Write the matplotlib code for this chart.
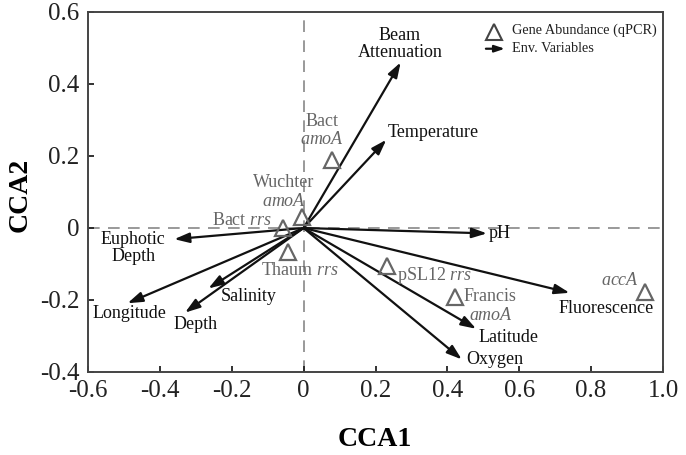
import matplotlib
matplotlib.use("Agg")
import matplotlib.pyplot as plt

plt.rcParams['font.family'] = ['Liberation Serif', 'DejaVu Serif']
plt.rcParams['mathtext.fontset'] = 'custom'
plt.rcParams['mathtext.rm'] = 'Liberation Serif'
plt.rcParams['mathtext.it'] = 'Liberation Serif:italic'
plt.rcParams['mathtext.bf'] = 'Liberation Serif:bold'

# Environmental variable vectors (CCA1, CCA2)
env_names = ["Beam\nAttenuation", "Temperature", "pH", "Fluorescence", "Latitude",
             "Oxygen", "Euphotic\nDepth", "Longitude", "Salinity", "Depth"]
env_x = [0.27, 0.23, 0.51, 0.74, 0.48, 0.44, -0.36, -0.49, -0.265, -0.33]
env_y = [0.46, 0.245, -0.015, -0.18, -0.28, -0.365, -0.031, -0.209, -0.168, -0.235]

# Gene abundance scores
gene_names = ["Bact\n$\\it{amoA}$", "Wuchter\n$\\it{amoA}$", "Bact $\\it{rrs}$",
              "Thaum $\\it{rrs}$", "pSL12 $\\it{rrs}$", "Francis", "$\\it{accA}$"]
gene_x = [0.078, -0.005, -0.058, -0.043, 0.231, 0.421, 0.95]
gene_y = [0.189, 0.031, 0.0, -0.066, -0.106, -0.193, -0.177]

xticks = [-0.6, -0.4, -0.2, 0, 0.2, 0.4, 0.6, 0.8, 1.0]
xticklabels = ["-0.6", "-0.4", "-0.2", "0", "0.2", "0.4", "0.6", "0.8", "1.0"]
yticks = [-0.4, -0.2, 0, 0.2, 0.4, 0.6]
yticklabels = ["-0.4", "-0.2", "0", "0.2", "0.4", "0.6"]

# label placement (text position, alignment)
env_lab = [(0.268, 0.511, 'center'), (0.234, 0.265, 'left'), (0.515, -0.014, 'left'),
           (0.843, -0.223, 'center'), (0.57, -0.304, 'center'), (0.452, -0.365, 'left'),
           (-0.474, -0.056, 'center'), (-0.485, -0.237, 'center'), (-0.154, -0.191, 'center'),
           (-0.302, -0.269, 'center')]
gene_lab = [(0.05, 0.27, 'center'), (-0.055, 0.10, 'center'), (-0.172, 0.022, 'center'),
            (-0.01, -0.119, 'center'), (0.259, -0.133, 'left'), (0.446, -0.191, 'left'),
            (0.88, -0.146, 'center')]

fig = plt.figure(figsize=(6.86, 4.55), dpi=100)
ax = fig.add_axes([88/686, 1-372/455, (663-88)/686, (372-12)/455])

ax.axhline(0, color='#888888', lw=1.2, ls=(0, (7, 5)), zorder=1)
ax.axvline(0, color='#888888', lw=1.2, ls=(0, (7, 5)), zorder=1)

for i, n in enumerate(env_names):
    ax.annotate("", xy=(env_x[i], env_y[i]), xytext=(0, 0),
                arrowprops=dict(arrowstyle='-|>,head_length=0.9,head_width=0.3',
                                color='#111111', lw=1.6, shrinkA=0, shrinkB=0), zorder=3)
    tx, ty, ha = env_lab[i]
    ax.text(tx, ty, n, ha=ha, va='center', fontsize=13, color='#111111',
            linespacing=1.0, zorder=4)

ax.plot(gene_x, gene_y, ls='none', marker='^', ms=11, mfc='none', mec='#666666',
        mew=1.6, zorder=4)
for i, n in enumerate(gene_names):
    tx, ty, ha = gene_lab[i]
    ax.text(tx, ty, n, ha=ha, va='center', fontsize=13, color='#666666',
            linespacing=1.1, zorder=4)
ax.text(0.519, -0.244, "amoA", ha='center', va='center', fontsize=13,
        color='#666666', style='italic')

ax.set_xlim(-0.6, 1.0)
ax.set_ylim(-0.4, 0.6)
ax.set_xticks(xticks)
ax.set_xticklabels(xticklabels)
ax.set_yticks(yticks)
ax.set_yticklabels(yticklabels)
ax.tick_params(direction='in', length=4, width=1.3, labelsize=18, colors='#222222', pad=6)
for s in ax.spines.values():
    s.set_color('#444444')
    s.set_linewidth(1.4)

fig.text(375/686, 1-440/455, "CCA1", ha='center', va='center', fontsize=20, fontweight='bold')
fig.text(20/686, 1-195/455, "CCA2", ha='center', va='center', fontsize=20,
         fontweight='bold', rotation=90)

# legend
ax.plot([0.706], [0.945], transform=ax.transAxes, marker='^', ms=11, mfc='none',
        mec='#444444', mew=1.5, ls='none')
ax.annotate("", xy=(0.725, 0.898), xytext=(0.692, 0.898), xycoords='axes fraction',
            arrowprops=dict(arrowstyle='-|>,head_length=0.6,head_width=0.2',
                            color='#111111', lw=1.6, shrinkA=0, shrinkB=0))
ax.text(0.737, 0.948, "Gene Abundance (qPCR)", transform=ax.transAxes,
        ha='left', va='center', fontsize=10.3, color='#222222')
ax.text(0.737, 0.898, "Env. Variables", transform=ax.transAxes,
        ha='left', va='center', fontsize=10.3, color='#222222')

fig.savefig("out.png", dpi=100)
